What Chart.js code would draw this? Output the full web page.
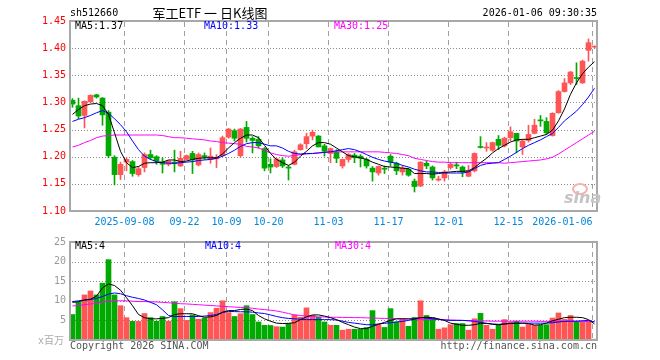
<!DOCTYPE html>
<html><head><meta charset="utf-8">
<script src="https://cdn.jsdelivr.net/npm/chart.js@4/dist/chart.umd.min.js"></script>
<style>
html,body{margin:0;padding:0;background:#fff;width:660px;height:360px;overflow:hidden;position:relative;font-family:"DejaVu Sans Mono",monospace;}
.t{position:absolute;font-size:10px;line-height:12px;white-space:pre;font-family:"DejaVu Sans Mono","Noto Sans CJK SC",monospace;}
#c1{position:absolute;left:0;top:0;}
#c2{position:absolute;left:0;top:232px;}
</style></head><body>
<canvas id="c1" width="660" height="236"></canvas>
<canvas id="c2" width="660" height="128"></canvas>
<div class="t" style="left:70px;top:7px;color:#000">sh512660</div>
<div class="t" style="left:140px;width:140px;top:5px;text-align:center;font-family:'Noto Sans CJK SC',sans-serif;font-size:13px;line-height:16px;color:#000">军工ETF 一 日K线图</div>
<div class="t" style="right:63px;top:7px;color:#000">2026-01-06 09:30:35</div>
<div class="t" style="left:75px;top:20px;color:#000">MA5:1.37</div>
<div class="t" style="left:204px;top:20px;color:#0000ff">MA10:1.33</div>
<div class="t" style="left:334px;top:20px;color:#ff00ff">MA30:1.25</div>
<div class="t" style="left:75px;top:240px;color:#000">MA5:4</div>
<div class="t" style="left:205px;top:240px;color:#0000ff">MA10:4</div>
<div class="t" style="left:335px;top:240px;color:#ff00ff">MA30:4</div>
<div class="t" style="right:596px;top:335px;color:#aaa">x百万</div>
<div class="t" style="left:70px;top:340px;color:#555">Copyright 2026 SINA.COM</div>
<div class="t" style="right:63px;top:340px;color:#555">http://finance.sina.com.cn</div>
<div style="position:absolute;left:572px;top:183px;width:12px;height:8px;border:2px solid #f2b0b0;border-radius:50%;"></div>
<div class="t" style="left:564px;top:189px;font-family:'DejaVu Sans',sans-serif;font-size:16px;line-height:18px;font-weight:bold;font-style:italic;color:#c4c4c4">sina</div>
<script>
// ---------- data ----------
const tickIndex = [9,19,26,33,43,53,63,73,87];
const tickLabels = ['2025-09-08','09-22','10-09','10-20','11-03','11-17','12-01','12-15','2026-01-06'];
const priceTicks = [1.10,1.15,1.20,1.25,1.30,1.35,1.40,1.45];
const volTicks = [5,10,15,20,25];

const open = [1.304,1.294,1.276,1.301,1.314,1.308,1.282,1.199,1.167,1.190,
1.191,1.167,1.180,1.204,1.200,1.190,1.186,1.190,1.183,1.195,
1.206,1.185,1.202,1.195,1.196,1.202,1.236,1.248,1.202,1.254,
1.234,1.232,1.215,1.186,1.182,1.194,1.181,1.186,1.213,1.224,
1.238,1.238,1.220,1.206,1.209,1.183,1.195,1.203,1.201,1.195,
1.179,1.170,1.178,1.201,1.188,1.172,1.177,1.155,1.146,1.188,
1.181,1.157,1.161,1.180,1.185,1.181,1.164,1.174,1.218,1.216,
1.212,1.232,1.220,1.235,1.243,1.218,1.230,1.243,1.267,1.265,
1.239,1.281,1.320,1.336,1.345,1.336,1.396,1.402];
const high = [1.307,1.308,1.303,1.314,1.315,1.309,1.285,1.202,1.190,1.198,
1.193,1.182,1.207,1.212,1.202,1.198,1.193,1.212,1.210,1.203,
1.210,1.207,1.207,1.216,1.204,1.238,1.252,1.251,1.252,1.265,
1.237,1.237,1.217,1.196,1.197,1.198,1.184,1.212,1.224,1.243,
1.249,1.239,1.223,1.216,1.213,1.196,1.206,1.206,1.204,1.197,
1.182,1.183,1.183,1.204,1.190,1.184,1.179,1.159,1.191,1.192,
1.183,1.164,1.175,1.190,1.190,1.183,1.184,1.207,1.237,1.226,
1.227,1.239,1.236,1.255,1.243,1.232,1.258,1.269,1.276,1.272,
1.281,1.322,1.344,1.357,1.373,1.378,1.417,1.404];
const low = [1.291,1.270,1.253,1.300,1.308,1.258,1.198,1.148,1.158,1.174,
1.164,1.164,1.172,1.195,1.186,1.170,1.183,1.172,1.182,1.194,
1.169,1.183,1.195,1.188,1.180,1.200,1.234,1.229,1.199,1.227,
1.207,1.216,1.174,1.170,1.180,1.180,1.157,1.185,1.212,1.215,
1.231,1.218,1.201,1.189,1.189,1.179,1.190,1.189,1.181,1.179,
1.155,1.166,1.169,1.183,1.167,1.166,1.164,1.135,1.145,1.178,
1.157,1.155,1.155,1.177,1.178,1.163,1.163,1.172,1.216,1.210,
1.210,1.213,1.218,1.229,1.207,1.204,1.227,1.242,1.256,1.241,
1.238,1.280,1.319,1.333,1.333,1.335,1.376,1.400];
const close = [1.297,1.275,1.302,1.313,1.310,1.277,1.202,1.167,1.186,1.195,
1.169,1.178,1.204,1.198,1.192,1.186,1.192,1.187,1.197,1.202,
1.194,1.204,1.199,1.201,1.199,1.235,1.251,1.234,1.251,1.234,
1.230,1.220,1.179,1.181,1.196,1.183,1.179,1.209,1.222,1.237,
1.245,1.218,1.210,1.215,1.197,1.195,1.204,1.198,1.197,1.183,
1.172,1.182,1.177,1.190,1.174,1.179,1.166,1.145,1.190,1.183,
1.161,1.159,1.172,1.186,1.183,1.172,1.174,1.206,1.217,1.217,
1.226,1.221,1.234,1.246,1.229,1.229,1.241,1.258,1.266,1.244,
1.280,1.320,1.336,1.356,1.344,1.376,1.410,1.403];

const ma5 = [1.278,1.287,1.294,1.297,1.298,1.294,1.278,1.244,1.210,1.189,
1.180,1.182,1.188,1.189,1.189,1.190,1.194,1.194,1.191,1.192,
1.195,1.197,1.198,1.198,1.198,1.205,1.216,1.226,1.234,1.240,
1.240,1.235,1.221,1.206,1.195,1.189,1.184,1.190,1.201,1.210,
1.220,1.226,1.226,1.223,1.216,1.209,1.202,1.200,1.198,1.195,
1.190,1.186,1.182,1.181,1.180,1.179,1.178,1.169,1.169,1.169,
1.168,1.169,1.171,1.172,1.173,1.173,1.174,1.180,1.189,1.197,
1.207,1.215,1.221,1.227,1.231,1.232,1.232,1.235,1.238,1.241,
1.249,1.266,1.288,1.315,1.336,1.353,1.365,1.375];
const ma10 = [1.265,1.269,1.272,1.276,1.281,1.285,1.280,1.270,1.259,1.246,
1.229,1.213,1.201,1.195,1.191,1.189,1.188,1.188,1.189,1.190,
1.191,1.193,1.194,1.195,1.197,1.201,1.206,1.212,1.219,1.224,
1.226,1.226,1.223,1.220,1.220,1.216,1.210,1.206,1.205,1.206,
1.206,1.207,1.208,1.209,1.211,1.213,1.215,1.213,1.209,1.204,
1.199,1.195,1.192,1.190,1.188,1.184,1.181,1.177,1.174,1.172,
1.172,1.171,1.170,1.170,1.170,1.170,1.172,1.178,1.184,1.187,
1.188,1.189,1.195,1.201,1.208,1.215,1.221,1.226,1.231,1.237,
1.243,1.254,1.266,1.275,1.284,1.296,1.310,1.326];
const ma30 = [1.218,1.221,1.226,1.230,1.235,1.238,1.239,1.240,1.240,1.240,
1.240,1.240,1.240,1.240,1.240,1.239,1.237,1.235,1.235,1.234,
1.233,1.232,1.231,1.229,1.228,1.226,1.225,1.224,1.223,1.219,
1.218,1.216,1.212,1.207,1.204,1.202,1.201,1.202,1.204,1.205,
1.206,1.207,1.208,1.209,1.209,1.209,1.209,1.209,1.209,1.209,
1.209,1.209,1.208,1.207,1.206,1.204,1.202,1.197,1.195,1.193,
1.191,1.190,1.190,1.189,1.189,1.189,1.189,1.189,1.189,1.189,
1.189,1.189,1.188,1.189,1.190,1.191,1.192,1.193,1.194,1.196,
1.199,1.205,1.212,1.219,1.226,1.233,1.240,1.247];

const volume = [6.5,9.6,11.5,12.5,11.5,14.5,20.5,11.5,8.75,5.7,
4.75,4.75,6.75,5.7,4.8,6.0,4.8,9.75,8.0,5.0,
6.4,5.3,5.6,7.0,8.1,10.0,7.0,6.0,6.7,8.75,
6.5,4.6,3.75,3.7,3.4,3.3,4.2,6.4,5.8,8.2,
6.3,5.8,4.6,3.75,3.75,2.5,2.75,2.75,2.75,3.2,
7.5,3.9,3.2,8.0,4.6,5.2,3.5,5.75,10.0,6.25,
5.7,2.75,3.1,3.9,4.2,4.2,2.5,5.4,6.8,3.75,
2.75,3.75,5.2,4.6,4.8,3.3,4.0,3.75,3.75,3.9,
5.6,6.9,5.25,6.25,4.75,4.6,4.6,0.2];
const vma5 = [9.6,9.75,10.2,10.4,11.2,13.3,14.3,13.9,12.7,10.8,
8.75,6.5,5.7,5.4,5.4,5.5,5.7,6.5,6.7,6.7,
6.7,6.2,5.8,5.9,6.25,7.1,7.5,7.5,7.8,7.9,
7.5,6.25,5.4,4.8,4.3,4.2,4.25,4.4,5.2,5.9,
6.4,6.4,6.1,5.7,5.2,4.5,3.9,3.3,2.9,2.9,
3.5,4.0,4.5,5.0,5.4,5.4,5.4,5.4,5.7,5.8,
5.7,5.4,5.0,4.3,4.0,3.75,3.75,3.9,4.25,4.25,
4.0,3.9,4.1,4.25,4.3,4.3,4.2,3.8,3.9,4.3,
4.9,5.3,5.7,5.8,5.8,5.7,5.2,4.1];
const vma10 = [9.8,10.0,10.2,10.3,10.6,11.1,11.7,12.0,11.8,11.3,
10.9,10.6,10.2,9.6,9.0,7.7,6.25,6.0,6.0,6.0,
6.0,6.0,6.1,6.25,6.5,7.0,7.3,7.25,7.2,7.2,
7.1,6.9,6.75,6.4,6.0,5.7,5.5,5.4,5.3,5.2,
5.2,5.2,5.2,5.2,5.1,4.8,4.5,4.3,4.1,3.9,
3.9,4.1,4.25,4.4,4.6,4.75,5.0,5.3,5.7,5.6,
5.4,5.25,5.1,5.0,5.0,5.0,4.9,4.75,4.5,4.25,
4.1,4.0,4.1,4.2,4.25,4.3,4.3,4.3,4.3,4.3,
4.4,4.6,4.75,4.8,4.8,4.9,5.0,4.6];
const vma30 = [8.7,8.8,9.0,9.2,9.3,9.7,9.9,10.0,10.0,10.0,
9.9,9.8,9.8,9.75,9.7,9.6,9.5,9.4,9.25,9.2,
9.1,9.0,8.9,8.8,8.7,8.6,8.5,8.4,8.3,8.25,
8.1,7.9,7.75,7.6,7.4,7.1,6.75,6.4,6.25,6.1,
6.0,5.9,5.85,5.8,5.8,5.75,5.75,5.7,5.7,5.65,
5.6,5.55,5.5,5.5,5.45,5.4,5.35,5.3,5.3,5.25,
5.2,5.2,5.15,5.1,5.05,5.0,4.95,4.9,4.9,4.85,
4.8,4.8,4.8,4.8,4.8,4.8,4.8,4.8,4.75,4.75,
4.75,4.75,4.75,4.75,4.75,4.75,4.7,4.7];

// ---------- styling ----------
const RED = '#ff5555', GREEN = '#00aa00';
const FONT = {family:'DejaVu Sans Mono', size:10};
const XMIN = -2.5/6, XMAX = -2.5/6 + 527/6;
const up = close.map((c,i)=> c >= open[i]);
const cols = up.map(u => u ? RED : GREEN);
const xy = arr => arr.map((v,i)=>({x:i, y:v}));
const gridX = tickIndex.map(v => v - 1/3);

// grid: dotted horizontals + dashed verticals, drawn as pixel runs at the scales' positions
function drawGrid(chart){
  const a = chart.chartArea, ctx = chart.ctx;
  const xs = chart.scales.x, ys = chart.scales.y;
  const L = Math.round(a.left), R = Math.round(a.right), T = Math.round(a.top), B = Math.round(a.bottom);
  ctx.save();
  ctx.fillStyle = '#8c8c8c';
  for (const t of ys.ticks) {
    const py = Math.round(ys.getPixelForValue(t.value));
    if (py <= T + 1 || py >= B - 1) continue;
    for (let x = L + 2; x < R - 1; x += 3) ctx.fillRect(x, py, 1, 1);
  }
  ctx.fillStyle = '#a0a0a0';
  for (const v of gridX) {
    const px = Math.floor(xs.getPixelForValue(v));
    for (let y = T + 1; y < B; y += 9) ctx.fillRect(px, y, 1, Math.min(5, B - y));
  }
  ctx.restore();
}
const gridPlugin = {
  id:'sinaGrid',
  beforeDatasetsDraw(chart){ drawGrid(chart); },
  afterDraw(chart){
    const a = chart.chartArea, ctx = chart.ctx;
    ctx.save();
    ctx.strokeStyle = '#a8a8a8';
    ctx.lineWidth = 2;
    ctx.strokeRect(a.left, a.top, a.right - a.left, a.bottom - a.top);
    ctx.restore();
  }
};

function lineDS(data, color){
  return {type:'line', data: xy(data), borderColor: color, borderWidth: 1,
    pointRadius: 0, tension: 0, fill: false, order: 0};
}

function xScale(showLabels, height){
  return {
    type:'linear', min: XMIN, max: XMAX, offset:false,
    afterBuildTicks(s){ s.ticks = gridX.map(v => ({value: v})); },
    afterFit(s){ s.height = height; },
    grid:{display:false, offset:false, drawTicks:false},
    border:{display:false},
    ticks:{display: showLabels, autoSkip:false, maxRotation:0, minRotation:0, padding:5,
      color:'#0088dd', font: FONT,
      callback(v){
        const k = tickIndex.indexOf(Math.round(v));
        if (k < 0) return '';
        return k === tickIndex.length - 1 ? tickLabels[k] + ' '.repeat(10) : tickLabels[k];
      }}
  };
}

Chart.defaults.font.family = 'DejaVu Sans Mono';
Chart.defaults.font.size = 10;
Chart.defaults.animation = false;

new Chart(document.getElementById('c1'), {
  type:'bar',
  data:{datasets:[
    lineDS(ma5,'#000000'), lineDS(ma10,'#0000ff'), lineDS(ma30,'#ff00ff'),
    {type:'bar', data: low.map((l,i)=>({x:i, y:[l, high[i]]})), backgroundColor: cols,
      barThickness:1, grouped:false, borderWidth:0, minBarLength:1, order:2},
    {type:'bar', data: open.map((o,i)=>({x:i, y:[Math.min(o,close[i]), Math.max(o,close[i])]})),
      backgroundColor: cols, barThickness:5, grouped:false, borderWidth:0, minBarLength:1, order:1}
  ]},
  options:{
    responsive:false, devicePixelRatio:1, animation:false,
    layout:{padding:{left:0, right:63, top:21, bottom:0}},
    plugins:{legend:{display:false}, tooltip:{enabled:false}},
    scales:{
      x: xScale(true, 25),
      y:{type:'linear', min:1.10, max:1.45,
        afterBuildTicks(s){ s.ticks = priceTicks.map(v=>({value:v})); },
        afterFit(s){ s.width = 70; },
        grid:{display:false, drawTicks:false},
        border:{display:false},
        ticks:{color:'#ff0000', font: FONT, padding:4, callback:v=>v.toFixed(2)}}
    }
  },
  plugins:[gridPlugin]
});

new Chart(document.getElementById('c2'), {
  type:'bar',
  data:{datasets:[
    lineDS(vma5,'#000000'), lineDS(vma10,'#0000ff'), lineDS(vma30,'#ff00ff'),
    {type:'bar', data: xy(volume), backgroundColor: cols, barThickness:5, grouped:false,
      borderWidth:0, order:1}
  ]},
  options:{
    responsive:false, devicePixelRatio:1, animation:false,
    layout:{padding:{left:0, right:63, top:9, bottom:0}},
    plugins:{legend:{display:false}, tooltip:{enabled:false}},
    scales:{
      x: xScale(false, 20),
      y:{type:'linear', min:0, max:25,
        afterBuildTicks(s){ s.ticks = volTicks.map(v=>({value:v})); },
        afterFit(s){ s.width = 70; },
        grid:{display:false, drawTicks:false},
        border:{display:false},
        ticks:{color:'#999999', font: FONT, padding:4}}
    }
  },
  plugins:[gridPlugin]
});
</script>
</body></html>
